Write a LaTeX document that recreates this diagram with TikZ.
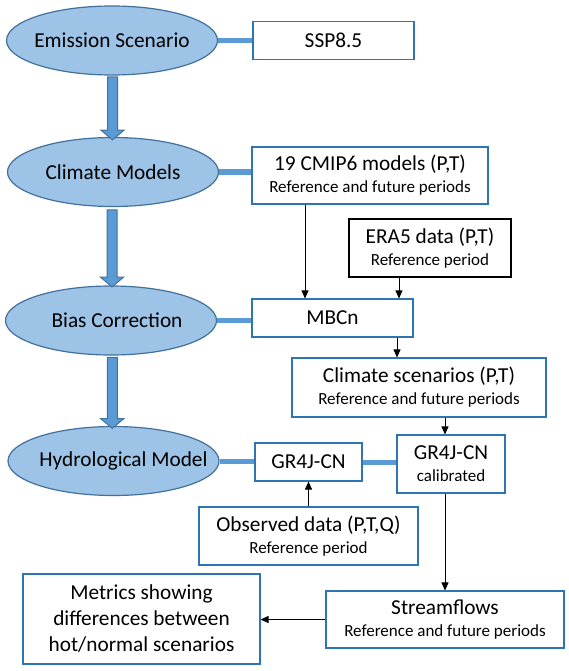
\documentclass[tikz,border=0pt]{standalone}
\usepackage{fontspec}
\setmainfont{Carlito}
\usepackage{xcolor}
\usepackage{tikz}
\usetikzlibrary{shapes.geometric, shapes.arrows, arrows.meta, positioning, calc}
\definecolor{stagefill}{RGB}{157,195,230}
\definecolor{stageedge}{RGB}{65,113,156}
\definecolor{linkblue}{RGB}{91,155,213}
\definecolor{boxblue}{RGB}{46,117,182}
\newcommand{\subline}[1]{{\fontsize{17}{21}\selectfont #1}}
\tikzset{
  stage/.style={ellipse, draw=stageedge, fill=stagefill,
    minimum width=211pt, minimum height=69pt, inner sep=0pt,
    font=\fontsize{21.3}{26}\selectfont, line width=1.2pt},
  databox/.style={rectangle, draw=boxblue, fill=white, align=center,
    inner sep=0pt, font=\fontsize{21.3}{26}\selectfont, line width=1.1pt},
  blackbox/.style={databox, draw=black},
  stagearrow/.style={single arrow, draw=stageedge, fill=linkblue,
    text height=9pt, text depth=0pt, single arrow head extend=6.5pt,
    single arrow tip angle=100, inner sep=0pt, rotate=-90, line width=1pt},
  link/.style={line width=5pt, color=linkblue},
  arrow/.style={-{Triangle[width=7pt,length=8pt]}, line width=0.9pt, color=black}
}

\begin{document}
\begin{tikzpicture}[x=1pt, y=-1pt]
  \useasboundingbox (0,0) rectangle (569,671);

  \node[stage] (emis) at (112,40.5) {\makebox[0pt]{Emission Scenario}};
  \node[stage] (climmod) at (113,172) {\makebox[0pt]{Climate Models}};
  \node[stage] (bias) at (111,320.5) {\makebox[0pt]{\hspace{12pt}Bias Correction}};
  \node[stage] (hydro) at (113.5,461) {\makebox[0pt]{\hspace{20pt}Hydrological Model}};

  \node[databox, minimum width=161pt, minimum height=38pt] (ssp) at (333.5,40.5) {SSP8.5};
  \node[databox, minimum width=236pt, minimum height=57pt] (cmip) at (370,175.5)
    {19 CMIP6 models (P,T)\\[-4pt]\subline{Reference and future periods}};
  \node[blackbox, minimum width=162pt, minimum height=58pt] (era) at (430,248)
    {ERA5 data (P,T)\\[-4pt]\subline{Reference period}};
  \node[databox, minimum width=161pt, minimum height=38pt] (mbcn) at (332.5,318) {MBCn};
  \node[databox, minimum width=254pt, minimum height=59pt] (scen) at (419,387.5)
    {Climate scenarios (P,T)\\[-4pt]\subline{Reference and future periods}};
  \node[databox, minimum width=107pt, minimum height=38pt] (gr) at (308.5,462) {GR4J-CN};
  \node[databox, minimum width=108pt, minimum height=58pt] (calib) at (451,464)
    {GR4J-CN\\[-4pt]\subline{calibrated}};
  \node[databox, minimum width=219pt, minimum height=58pt] (obs) at (308.5,536)
    {Observed data (P,T,Q)\\[-4pt]\subline{Reference period}};
  \node[databox, minimum width=238pt, minimum height=57pt] (stream) at (445,619.5)
    {Streamflows\\[-4pt]\subline{Reference and future periods}};
  \node[databox, minimum width=237pt, minimum height=90pt] (metrics) at (141.5,619)
    {Metrics showing\\differences between\\hot/normal scenarios};

  \path (emis.south) -- (climmod.north) node[midway, stagearrow, minimum height=63pt] (a1) {};
  \path (climmod.south) -- (bias.north) node[midway, stagearrow, minimum height=77pt] (a2) {};
  \path (bias.south) -- (hydro.north) node[midway, stagearrow, minimum height=71pt] (a3) {};

  \draw[link] (emis.east) -- (ssp.west);
  \draw[link] (climmod.east) -- (climmod.east -| cmip.west);
  \draw[link] (bias.east) -- (bias.east -| mbcn.west);
  \draw[link] (hydro.east) -- (hydro.east -| gr.west);
  \draw[link] (gr.east) -- (gr.east -| calib.west);

  \draw[arrow] ([xshift=-65pt]cmip.south) -- ([xshift=-65pt]cmip.south |- mbcn.north);
  \draw[arrow] ([xshift=-31pt]era.south) -- ([xshift=-31pt]era.south |- mbcn.north);
  \draw[arrow] ([xshift=64.5pt]mbcn.south) -- ([xshift=64.5pt]mbcn.south |- scen.north);
  \draw[arrow] ([xshift=-6pt]calib.north |- scen.south) -- ([xshift=-6pt]calib.north);
  \draw[arrow] (obs.north) -- (gr.south);
  \draw[arrow] (stream.north |- calib.south) -- (stream.north);
  \draw[arrow] (stream.west) -- (stream.west -| metrics.east);
\end{tikzpicture}
\end{document}
